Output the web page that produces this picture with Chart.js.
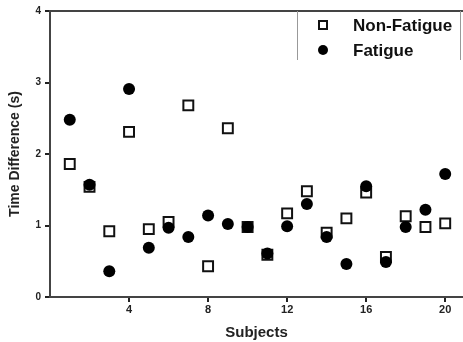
<!DOCTYPE html>
<html>
<head>
<meta charset="utf-8">
<script src="https://cdn.jsdelivr.net/npm/chart.js@4.4.1/dist/chart.umd.min.js"></script>
<style>
  html, body { margin: 0; padding: 0; background: #fff; }
  #wrap { width: 463px; height: 342px; position: relative; }
</style>
</head>
<body>
<div id="wrap"><canvas id="chart"></canvas></div>
<script>
const subjects = [1, 2, 3, 4, 5, 6, 7, 8, 9, 10, 11, 12, 13, 14, 15, 16, 17, 18, 19, 20];
const nonFatigue = [1.86, 1.54, 0.92, 2.31, 0.95, 1.05, 2.68, 0.43, 2.36, 0.98, 0.59, 1.17, 1.48, 0.90, 1.10, 1.46, 0.56, 1.13, 0.98, 1.03];
const fatigue = [2.48, 1.57, 0.36, 2.91, 0.69, 0.97, 0.84, 1.14, 1.02, 0.98, 0.61, 0.99, 1.30, 0.84, 0.46, 1.55, 0.49, 0.98, 1.22, 1.72];
const xTicks = [4, 8, 12, 16, 20];
const yTicks = [0, 1, 2, 3, 4];

const font = "'Liberation Sans', Arial, sans-serif";
const ink = "#222";

function toPoints(values) {
  return subjects.map((s, i) => ({ x: s, y: values[i] }));
}

// top frame line plus the boxed legend inside the plot
const frameAndLegend = {
  id: "frameAndLegend",
  afterDraw(chart) {
    const { ctx, chartArea } = chart;
    ctx.save();
    ctx.strokeStyle = "#444";
    ctx.lineWidth = 2;
    ctx.beginPath();
    ctx.moveTo(chartArea.left - 1, chartArea.top);
    ctx.lineTo(chart.width, chartArea.top);
    ctx.stroke();

    const bx = 297, by = chartArea.top, bw = 163, bh = 49;
    ctx.fillStyle = "#fff";
    ctx.fillRect(bx, by + 1, bw, bh - 1);
    ctx.strokeStyle = "#999";
    ctx.lineWidth = 1;
    ctx.beginPath();
    ctx.moveTo(bx + 0.5, by);
    ctx.lineTo(bx + 0.5, by + bh);
    ctx.moveTo(bx + bw + 0.5, by);
    ctx.lineTo(bx + bw + 0.5, by + bh);
    ctx.stroke();

    const items = [
      { label: "Non-Fatigue", style: "rect", y: by + 14 },
      { label: "Fatigue", style: "circle", y: by + 39 },
    ];
    items.forEach((it) => {
      if (it.style === "rect") {
        ctx.fillStyle = "#fff";
        ctx.strokeStyle = "#111";
        ctx.lineWidth = 2;
        ctx.fillRect(bx + 22, it.y - 4, 8, 8);
        ctx.strokeRect(bx + 22, it.y - 4, 8, 8);
      } else {
        ctx.fillStyle = "#000";
        ctx.beginPath();
        ctx.arc(bx + 26, it.y, 5, 0, Math.PI * 2);
        ctx.fill();
      }
      ctx.fillStyle = "#111";
      ctx.font = "bold 17px " + font;
      ctx.textBaseline = "middle";
      ctx.fillText(it.label, bx + 56, it.y + 1);
    });
    ctx.restore();
  },
};

new Chart(document.getElementById("chart"), {
  type: "scatter",
  data: {
    datasets: [
      {
        label: "Non-Fatigue",
        data: toPoints(nonFatigue),
        pointStyle: "rect",
        radius: 7,
        backgroundColor: "#fff",
        borderColor: "#111",
        borderWidth: 2,
        order: 1,
      },
      {
        label: "Fatigue",
        data: toPoints(fatigue),
        pointStyle: "circle",
        radius: 6,
        backgroundColor: "#000",
        borderColor: "#000",
        borderWidth: 0,
        order: 0,
      },
    ],
  },
  options: {
    responsive: true,
    maintainAspectRatio: false,
    animation: false,
    layout: { autoPadding: false, padding: { top: 11, right: 0, left: 0, bottom: 0 } },
    plugins: { legend: { display: false }, tooltip: { enabled: false } },
    scales: {
      x: {
        type: "linear",
        min: 0,
        max: 20.9,
        afterBuildTicks: (axis) => {
          axis.ticks = xTicks.map((v) => ({ value: v }));
        },
        afterFit: (axis) => { axis.height = 45; },
        grid: { drawOnChartArea: false, drawTicks: true, tickLength: 5, color: ink, lineWidth: 2 },
        border: { display: true, color: "#444", width: 2 },
        ticks: { color: ink, font: { family: font, size: 11, weight: "bold" }, padding: 1, maxRotation: 0 },
        title: {
          display: true,
          text: "Subjects",
          color: ink,
          font: { family: font, size: 15, weight: "bold" },
          padding: { top: 3, bottom: 0 },
        },
      },
      y: {
        min: 0,
        max: 4,
        afterBuildTicks: (axis) => {
          axis.ticks = yTicks.map((v) => ({ value: v }));
        },
        afterFit: (axis) => { axis.width = 50; },
        grid: { drawOnChartArea: false, drawTicks: true, tickLength: 5, color: ink, lineWidth: 2 },
        border: { display: true, color: "#444", width: 2 },
        ticks: { color: ink, font: { family: font, size: 10, weight: "bold" }, padding: 4 },
        title: {
          display: true,
          text: "Time Difference (s)",
          color: ink,
          font: { family: font, size: 14, weight: "bold" },
          padding: { top: 7, bottom: 0 },
        },
      },
    },
  },
  plugins: [frameAndLegend],
});
</script>
</body>
</html>
